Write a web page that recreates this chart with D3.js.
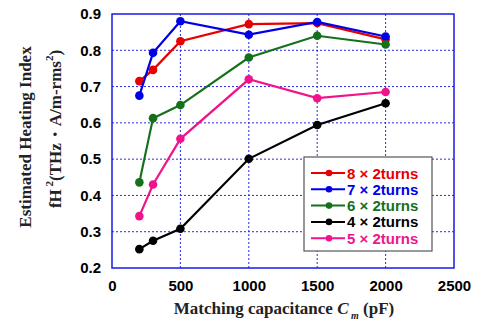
<!DOCTYPE html>
<html>
<head>
<meta charset="utf-8">
<script src="https://cdn.jsdelivr.net/npm/d3@7"></script>
<style>
  body { margin: 0; background: #fff; }
  svg { display: block; }
  .tick text { font-family: "Liberation Sans", Arial, sans-serif; font-weight: bold; font-size: 15px; fill: #000; }
  .title { font-family: "Liberation Serif", "Times New Roman", serif; font-weight: bold; font-size: 17px; fill: #222; }
  .leg { font-family: "Liberation Sans", Arial, sans-serif; font-weight: bold; font-size: 15px; }
</style>
</head>
<body>
<svg id="chart" width="480" height="321"></svg>
<script>
/* data */
const capacitance = [200, 300, 500, 1000, 1500, 2000];
const turns8 = [0.715, 0.746, 0.825, 0.872, 0.875, 0.830];
const turns7 = [0.675, 0.793, 0.880, 0.843, 0.878, 0.838];
const turns6 = [0.436, 0.613, 0.649, 0.780, 0.840, 0.816];
const turns4 = [0.252, 0.275, 0.308, 0.501, 0.594, 0.654];
const turns5 = [0.343, 0.430, 0.556, 0.720, 0.668, 0.685];
const xTicks = [0, 500, 1000, 1500, 2000, 2500];
const yTicks = [0.2, 0.3, 0.4, 0.5, 0.6, 0.7, 0.8, 0.9];

const series = [
  { name: "8 \u00d7 2turns", values: turns8, color: "#e60000" },
  { name: "7 \u00d7 2turns", values: turns7, color: "#0000e6" },
  { name: "6 \u00d7 2turns", values: turns6, color: "#15701c" },
  { name: "4 \u00d7 2turns", values: turns4, color: "#000000" },
  { name: "5 \u00d7 2turns", values: turns5, color: "#f0148c" }
];

const svg = d3.select("#chart");
const pLeft = 112, pRight = 454, pTop = 14, pBottom = 268;

const x = d3.scaleLinear().domain([0, 2500]).range([pLeft, pRight]);
const y = d3.scaleLinear().domain([0.2, 0.9]).range([pBottom, pTop]);

// grid
svg.append("g").selectAll("line")
  .data(xTicks.slice(1, -1))
  .enter().append("line")
  .attr("x1", d => x(d)).attr("x2", d => x(d))
  .attr("y1", pTop).attr("y2", pBottom)
  .attr("stroke", "#2a2ae0").attr("stroke-width", 1)
  .attr("stroke-dasharray", "2,2");

svg.append("g").selectAll("line")
  .data(yTicks.slice(1, -1))
  .enter().append("line")
  .attr("x1", pLeft).attr("x2", pRight)
  .attr("y1", d => y(d)).attr("y2", d => y(d))
  .attr("stroke", "#2a2ae0").attr("stroke-width", 1)
  .attr("stroke-dasharray", "2,2");

// frame
svg.append("rect")
  .attr("x", pLeft).attr("y", pTop)
  .attr("width", pRight - pLeft).attr("height", pBottom - pTop)
  .attr("fill", "none").attr("stroke", "#1a1ae6").attr("stroke-width", 1.5);

// axes
const xAxis = svg.append("g")
  .attr("transform", `translate(0,${pBottom})`)
  .call(d3.axisBottom(x).tickValues(xTicks).tickSize(0).tickPadding(12).tickFormat(d3.format("d")));
xAxis.select(".domain").remove();

const yAxis = svg.append("g")
  .attr("transform", `translate(${pLeft},0)`)
  .call(d3.axisLeft(y).tickValues(yTicks).tickSize(0).tickPadding(11).tickFormat(d3.format(".1f")));
yAxis.select(".domain").remove();

// lines
const line = d3.line()
  .x((d, i) => x(capacitance[i]))
  .y(d => y(d));

series.forEach(s => {
  svg.append("path")
    .datum(s.values)
    .attr("fill", "none")
    .attr("stroke", s.color)
    .attr("stroke-width", 2.2)
    .attr("d", line);

  svg.append("g").selectAll("circle")
    .data(s.values)
    .enter().append("circle")
    .attr("cx", (d, i) => x(capacitance[i]))
    .attr("cy", d => y(d))
    .attr("r", 4.3)
    .attr("fill", s.color);
});

// legend
const legend = svg.append("g");
legend.append("rect")
  .attr("x", 304).attr("y", 157)
  .attr("width", 128).attr("height", 94)
  .attr("fill", "#fff").attr("stroke", "#555").attr("stroke-width", 1.2);

series.forEach((s, i) => {
  const ly = 173 + i * 16.3;
  legend.append("line")
    .attr("x1", 311).attr("x2", 345)
    .attr("y1", ly).attr("y2", ly)
    .attr("stroke", s.color).attr("stroke-width", 2);
  legend.append("circle")
    .attr("cx", 329).attr("cy", ly).attr("r", 3.3)
    .attr("fill", s.color);
  legend.append("text")
    .attr("class", "leg")
    .attr("x", 347).attr("y", ly + 5.5)
    .attr("fill", s.color)
    .text(s.name);
});

// axis titles
const xt = svg.append("text")
  .attr("class", "title")
  .attr("x", 284).attr("y", 314)
  .attr("text-anchor", "middle");
xt.append("tspan").text("Matching capacitance ");
xt.append("tspan").attr("font-style", "italic").text("C");
xt.append("tspan").attr("font-style", "italic").attr("font-size", "10px").attr("dy", 5).text(" m");
xt.append("tspan").attr("dy", -5).text(" (pF)");

svg.append("text")
  .attr("class", "title")
  .attr("transform", "translate(31,137) rotate(-90)")
  .attr("text-anchor", "middle")
  .text("Estimated Heating Index");

const yt2 = svg.append("text")
  .attr("class", "title")
  .attr("transform", "translate(61,129) rotate(-90)")
  .attr("text-anchor", "middle");
yt2.append("tspan").text("fH");
yt2.append("tspan").attr("font-size", "11px").attr("dy", -8).text(" 2");
yt2.append("tspan").attr("dy", 8).text("(THz\u30fbA/m-rms");
yt2.append("tspan").attr("font-size", "11px").attr("dy", -8).text("2");
yt2.append("tspan").attr("dy", 8).text(")");
</script>
</body>
</html>
